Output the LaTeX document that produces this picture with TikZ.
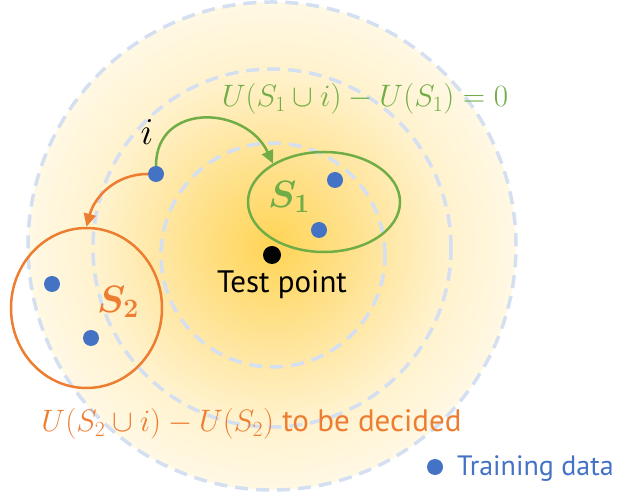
\RequirePackage{fix-cm}
\documentclass[tikz,border=0pt]{standalone}
\usepackage{amsmath}
\usepackage{fontspec}
\setmainfont{PT Sans}
\usetikzlibrary{arrows.meta, shapes.geometric, positioning}

\definecolor{setgreen}{RGB}{112,173,71}
\definecolor{setorange}{RGB}{237,125,49}
\definecolor{dotblue}{RGB}{68,114,196}
\definecolor{ringblue}{RGB}{212,223,242}
\definecolor{glowin}{RGB}{255,212,85}
\definecolor{glowmid}{RGB}{255,230,160}
\definecolor{glowsoft}{RGB}{255,242,205}
\definecolor{glowout}{RGB}{255,248,228}
\pgfdeclareradialshading{glow}{\pgfpoint{0bp}{0bp}}{color(0bp)=(glowin); color(11bp)=(glowmid); color(18bp)=(glowsoft); color(25bp)=(glowout); color(50bp)=(glowout)}

\begin{document}
\begin{tikzpicture}[x=1pt, y=1pt,
  ring/.style={draw=ringblue, line width=3.5pt, dash pattern=on 13pt off 8pt},
  dot/.style={circle, fill=dotblue, inner sep=0pt, minimum size=16pt},
  setbox/.style={ellipse, line width=2.5pt, inner sep=0pt},
  link/.style={-{Triangle[length=13pt, width=12pt]}, line width=2.5pt},
  lbl/.style={font=\fontsize{31}{36}\selectfont, inner sep=0pt},
  setlbl/.style={font=\fontsize{38}{42}\selectfont, inner sep=0pt},
]
\useasboundingbox (0,0) rectangle (620,492);
% glow and distance rings
\shade[shading=glow] (272,246) circle (244pt);
\draw[ring] (272,246) circle (244pt);
\draw[ring] (272,244) circle (179pt);
\draw[ring] (273,237) circle (112pt);

% test point
\node[circle, fill=black, inner sep=0pt, minimum size=18pt] (test) at (272,237) {};
\node[lbl, anchor=base] (testlbl) at (282,199) {Test point};

% the two sets
\node[setbox, draw=setgreen, minimum width=152pt, minimum height=100pt] (setA) at (324,290) {};
\node[setbox, draw=setorange, minimum width=151pt, minimum height=160pt] (setB) at (86.5,184) {};
\node[setlbl, text=setgreen] (setAlbl) at (289,295) {$\boldsymbol{S_1}$};
\node[setlbl, text=setorange] (setBlbl) at (118,190) {$\boldsymbol{S_2}$};

% training points
\node[dot] (a1) at (335,312) {};
\node[dot] (a2) at (319,262) {};
\node[dot] (b1) at (52,208) {};
\node[dot] (b2) at (91,154) {};
\node[dot] (ptI) at (156,318) {};
\node[setlbl] (ptIlbl) at (147,360) {$i$};

% moves of point i
\draw[link, setgreen] (ptI.north) to[out=90, in=115, looseness=1.4] (setA.143);
\draw[link, setorange] (ptI.west) to[out=180, in=75] (setB.north);

% utility labels
\node[lbl, text=setgreen, anchor=base] (gainA) at (365,385) {$U(S_1\cup i)-U(S_1)=0$};
\node[lbl, text=setorange, anchor=base] (gainB) at (251.5,60) {$U(S_2\cup i)-U(S_2)$ to be decided};

% legend
\node[dot] (legdot) at (435,25) {};
\node[lbl, text=dotblue, anchor=base west, font=\fontsize{28}{32}\selectfont] (leglbl) at (457,17) {Training data};
\end{tikzpicture}
\end{document}
